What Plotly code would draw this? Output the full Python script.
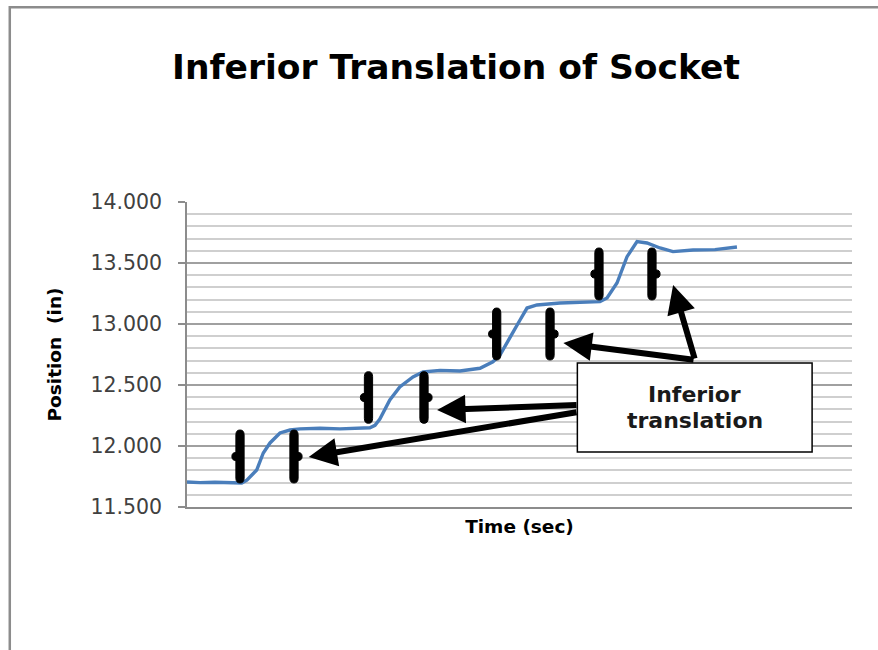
import plotly.graph_objects as go

# ---- data (time in s, position in inches) ----
time_s = [0, 1.95, 4.2, 6.47, 8.23, 9.0, 10.48, 11.47, 12.48, 13.98, 15.49, 16.99,
          20.0, 23.0, 26.0, 27.5, 28.27, 29.0, 30.5, 32.0, 33.98, 35.5, 38.05, 41.05,
          44.06, 46.0, 47.07, 48.57, 50.08, 51.13, 52.63, 56.09, 59.1, 62.1, 63.16,
          64.66, 66.17, 67.67, 69.17, 71.13, 73.08, 76.09, 79.4, 82.7]
position_in = [11.705, 11.700, 11.703, 11.697, 11.697, 11.72, 11.803, 11.943, 12.025,
               12.107, 12.131, 12.140, 12.145, 12.140, 12.145, 12.150, 12.170, 12.220,
               12.377, 12.484, 12.566, 12.607, 12.620, 12.615, 12.637, 12.690, 12.746,
               12.896, 13.033, 13.131, 13.156, 13.172, 13.175, 13.183, 13.213, 13.336,
               13.552, 13.675, 13.664, 13.623, 13.593, 13.607, 13.610, 13.631]

y_ticks = [11.5, 12.0, 12.5, 13.0, 13.5, 14.0]
y_tick_labels = ["11.500", "12.000", "12.500", "13.000", "13.500", "14.000"]

# bracket annotations (time center, top, bottom, side of nub)
bracket_t = [7.97, 16.09, 27.29, 35.64, 46.57, 54.59, 61.95, 69.92]
bracket_top = [12.131, 12.131, 12.609, 12.609, 13.131, 13.131, 13.623, 13.623]
bracket_bot = [11.697, 11.697, 12.186, 12.186, 12.705, 12.705, 13.197, 13.197]
bracket_side = [-1, 1, -1, 1, -1, 1, -1, 1]

# arrows: tip (t, pos) and tail (t, pos)
arrow_tip_t = [37.6, 18.3, 56.6, 73.1]
arrow_tip_y = [12.295, 11.91, 12.844, 13.32]
arrow_tail_t = [58.8, 58.8, 76.4, 76.4]
arrow_tail_y = [12.336, 12.279, 12.705, 12.705]

fig = go.Figure()
fig.add_trace(go.Scatter(x=time_s, y=position_in, mode="lines",
                         line=dict(color="#4a7ebb", width=3.4), showlegend=False,
                         hoverinfo="skip"))

FONT = "DejaVu Sans"
shapes = []
hw = 0.62      # half width of bracket in time units
d = 0.04       # end rounding in position units
nub_rt = 0.6
nub_ry = 0.033
for t, top, bot, side in zip(bracket_t, bracket_top, bracket_bot, bracket_side):
    path = (f"M {t-hw},{top-d} L {t-hw},{bot+d} Q {t-hw},{bot} {t},{bot} "
            f"Q {t+hw},{bot} {t+hw},{bot+d} L {t+hw},{top-d} "
            f"Q {t+hw},{top} {t},{top} Q {t-hw},{top} {t-hw},{top-d} Z")
    shapes.append(dict(type="path", path=path, xref="x", yref="y",
                       fillcolor="black", line=dict(color="black", width=1)))
    mid = (top + bot) / 2
    cx = t + side * hw
    shapes.append(dict(type="circle", xref="x", yref="y",
                       x0=cx - nub_rt, x1=cx + nub_rt, y0=mid - nub_ry, y1=mid + nub_ry,
                       fillcolor="black", line=dict(color="black", width=1)))

# text box
shapes.append(dict(type="rect", xref="x", yref="y", x0=58.7, x1=94.0, y0=11.951, y1=12.681,
                   fillcolor="white", line=dict(color="black", width=1.5)))

# outer frame
shapes.append(dict(type="rect", xref="paper", yref="paper",
                   x0=-0.2665, x1=1.3, y0=-0.6, y1=1.6385,
                   line=dict(color="#8c8c8c", width=2.5), fillcolor="rgba(0,0,0,0)",
                   layer="below"))

annotations = []
for tx, ty, ax, ay in zip(arrow_tip_t, arrow_tip_y, arrow_tail_t, arrow_tail_y):
    annotations.append(dict(x=tx, y=ty, ax=ax, ay=ay, xref="x", yref="y",
                            axref="x", ayref="y", text="", showarrow=True,
                            arrowhead=2, arrowsize=0.95, arrowwidth=6,
                            arrowcolor="black", standoff=0, startstandoff=0))
annotations.append(dict(x=76.35, y=12.426, xref="x", yref="y", text="<b>Inferior</b>",
                        showarrow=False, font=dict(family=FONT, size=22, color="#1a1a1a")))
annotations.append(dict(x=76.35, y=12.205, xref="x", yref="y", text="<b>translation</b>",
                        showarrow=False, font=dict(family=FONT, size=22, color="#1a1a1a")))

fig.update_layout(
    width=878, height=650,
    margin=dict(l=187, r=26, t=202, b=143),
    paper_bgcolor="white", plot_bgcolor="white",
    title=dict(text="<b>Inferior Translation of Socket</b>", x=456 / 878, xanchor="center",
               xref="container", y=1 - 67 / 650, yanchor="middle", yref="container",
               font=dict(family=FONT, size=34.5, color="black")),
    shapes=shapes, annotations=annotations, showlegend=False,
    xaxis=dict(range=[0, 100], showticklabels=False, ticks="", showgrid=False,
               zeroline=False, showline=True, linecolor="#8c8c8c", linewidth=1.5,
               title=dict(text="<b>Time (sec)</b>", standoff=12,
                          font=dict(family=FONT, size=18.5, color="black"))),
    yaxis=dict(range=[11.5, 14.0], tickvals=y_ticks, ticktext=y_tick_labels,
               ticks="outside", ticklen=7, tickcolor="#8c8c8c", tickwidth=1.5,
               ticklabelstandoff=12,
               tickfont=dict(family=FONT, size=20.5, color="#404040"),
               showline=True, linecolor="#8c8c8c", linewidth=1.5, zeroline=False,
               showgrid=True, gridcolor="#a0a0a0", gridwidth=1.5,
               minor=dict(dtick=0.1, showgrid=True, gridcolor="#cfcfcf", gridwidth=1.5,
                          ticks=""),
               title=dict(text="<b>Position \u00a0(in)</b>", standoff=24,
                          font=dict(family=FONT, size=18.5, color="black"))),
)

fig.write_html("out.html", config={"displayModeBar": False},
               post_script="document.body.style.margin='0';document.body.style.overflow='hidden';")
